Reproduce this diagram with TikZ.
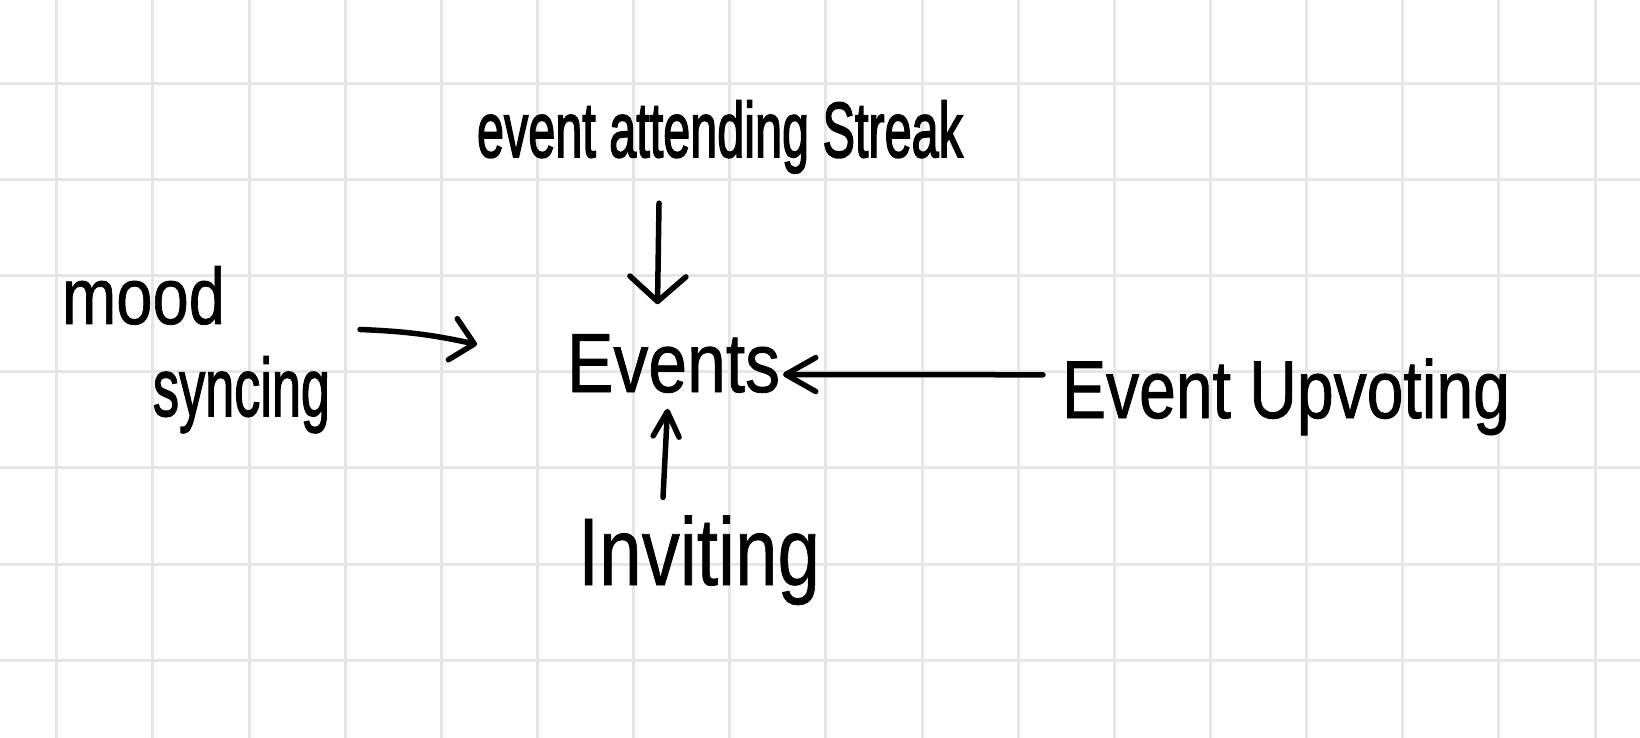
\documentclass[tikz,border=0pt]{standalone}
\usepackage{fontspec}
\setmainfont{Liberation Sans}
\usetikzlibrary{arrows.meta,calc}
\newcommand\hwtext[4]{\resizebox{#1}{\height}{\fontsize{#2}{#2}\selectfont\addfontfeature{FakeBold=#3}#4}}
\definecolor{gridgray}{HTML}{E6E6E6}
\tikzset{
  gridline/.style={draw=gridgray, line width=3bp},
  label/.style={inner sep=0pt, outer sep=0pt, text=black},
  ink/.style={draw=black, line width=5.5bp, line cap=round, line join=round},
}
\begin{document}
\begin{tikzpicture}[x=1bp,y=-1bp]
\useasboundingbox (0,0) rectangle (1640,738);
\fill[white] (0,0) rectangle (1640,738);
\foreach \i in {0,...,16} \draw[gridline] ({56.7+96.15*\i},0) -- ++(0,738);
\foreach \j in {0,...,6} \draw[gridline] (0,{83.3+96.15*\j}) -- ++(1640,0);

\node[label, anchor=base west] (es) at (477,157) {\hwtext{486bp}{78bp}{2.5}{event attending Streak}};
\node[label, anchor=base west] (ev) at (567,392) {\hwtext{213bp}{84bp}{1}{Events}};
\node[label, anchor=base west] (eu) at (1062,418) {\hwtext{448bp}{82bp}{1.2}{Event Upvoting}};
\node[label, anchor=base west] (inv) at (578,585) {\hwtext{242bp}{96bp}{0.8}{Inviting}};
\node[label, anchor=north west, align=left, font=\fontsize{80bp}{92bp}\selectfont] (ms) at (62,266)
  {\hwtext{163bp}{80bp}{1}{mood}\\\hspace*{91bp}\hwtext{177bp}{82bp}{2}{syncing}};

\draw[ink, -{Straight Barb[length=25bp,width=56bp,round]}]
  ($(es.south)+(-61,30)$) -- ($(ev.north)+(-16,-30)$);
\draw[ink, -{Straight Barb[length=22bp,width=42bp,round]}]
  ($(ms.east)+(30,-20)$) to[bend left=5] ($(ev.west)+(-90,-19)$);
\draw[ink, -{Straight Barb[length=30bp,width=34bp,round]}]
  ($(eu.west)+(-19,-22)$) -- ($(ev.east)+(3,11)$);
\draw[ink, -{Straight Barb[length=25bp,width=26bp,round]}]
  ($(inv.north)+(-36,-18)$) -- ($(ev.south)+(-6,16)$);
\end{tikzpicture}
\end{document}
